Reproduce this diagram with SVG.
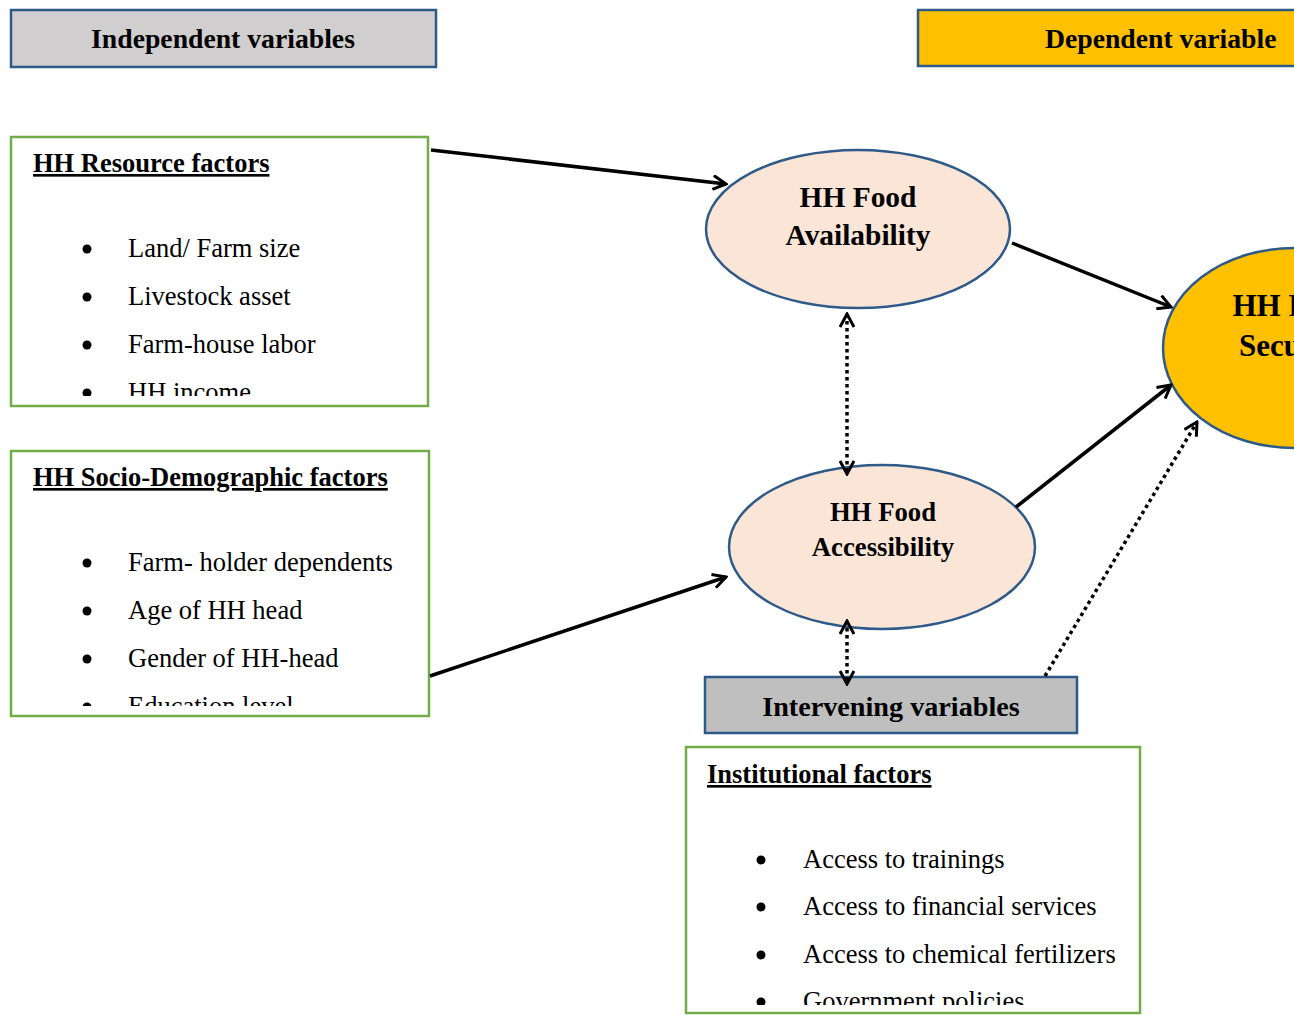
<svg xmlns="http://www.w3.org/2000/svg" width="1294" height="1015" viewBox="0 0 1294 1015">
<defs>
<style>
.hdr{font-family:"Liberation Serif","Times New Roman",serif;font-weight:bold;font-size:27.7px;fill:#000}
.ttl{font-family:"Liberation Serif","Times New Roman",serif;font-weight:bold;font-size:26.5px;fill:#000;text-decoration:underline}
.itm{font-family:"Liberation Serif","Times New Roman",serif;font-size:26.5px;fill:#000}
.ell{font-family:"Liberation Serif","Times New Roman",serif;font-weight:bold;fill:#000;text-anchor:middle}
.box{stroke:#70ad47;stroke-width:2.5;fill:#fff}
.hbox{stroke:#2e5a8a;stroke-width:2.5}
.oval{stroke:#2e5a8a;stroke-width:2.5}
.con{stroke:#000;stroke-width:3.5;fill:none}
.dot{stroke:#000;stroke-width:3.5;fill:none;stroke-dasharray:3.5 3.5}
</style>
<marker id="ah" viewBox="0 0 16 16" refX="14" refY="8" markerWidth="16" markerHeight="16" markerUnits="userSpaceOnUse" orient="auto-start-reverse">
<path d="M1,1 L14,8 L1,15" fill="none" stroke="#000" stroke-width="3"/>
</marker>
<clipPath id="c1"><rect x="11" y="137" width="417" height="259"/></clipPath>
<clipPath id="c2"><rect x="11" y="451" width="418" height="255"/></clipPath>
<clipPath id="c3"><rect x="686" y="747" width="454" height="258"/></clipPath>
</defs>
<rect width="1294" height="1015" fill="#fff"/>

<g id="independent-header">
<rect class="hbox" x="11" y="10" width="425" height="57" fill="#d0cece"/>
<text class="hdr" x="223" y="48" text-anchor="middle">Independent variables</text>
</g>

<g id="dependent-header">
<rect class="hbox" x="918" y="10" width="390" height="56" fill="#ffc000"/>
<text class="hdr" x="1045" y="48">Dependent variable</text>
</g>

<g id="resource-factors">
<rect class="box" x="11" y="137" width="417" height="269"/>
<text class="ttl" x="33" y="172">HH Resource factors</text>
<g clip-path="url(#c1)">
<circle cx="87" cy="249" r="4.5"/><text class="itm" x="128" y="257">Land/ Farm size</text>
<circle cx="87" cy="297" r="4.5"/><text class="itm" x="128" y="305">Livestock asset</text>
<circle cx="87" cy="345" r="4.5"/><text class="itm" x="128" y="353">Farm-house labor</text>
<circle cx="87" cy="393" r="4.5"/><text class="itm" x="128" y="401">HH income</text>
</g>
</g>

<g id="socio-demographic-factors">
<rect class="box" x="11" y="451" width="418" height="265"/>
<text class="ttl" x="33" y="486">HH Socio-Demographic factors</text>
<g clip-path="url(#c2)">
<circle cx="87" cy="563" r="4.5"/><text class="itm" x="128" y="571">Farm- holder dependents</text>
<circle cx="87" cy="611" r="4.5"/><text class="itm" x="128" y="619">Age of HH head</text>
<circle cx="87" cy="659" r="4.5"/><text class="itm" x="128" y="667">Gender of HH-head</text>
<circle cx="87" cy="707" r="4.5"/><text class="itm" x="128" y="715">Education level</text>
</g>
</g>

<g id="food-availability">
<ellipse class="oval" cx="858" cy="229" rx="152" ry="79" fill="#fbe5d6"/>
<text class="ell" x="858" y="207" font-size="29.4">HH Food</text>
<text class="ell" x="858" y="245" font-size="29.4">Availability</text>
</g>

<g id="food-accessibility">
<ellipse class="oval" cx="882" cy="547" rx="153" ry="82" fill="#fbe5d6"/>
<text class="ell" x="883" y="521" font-size="26.7">HH Food</text>
<text class="ell" x="883" y="556" font-size="26.7">Accessibility</text>
</g>

<g id="food-security">
<ellipse class="oval" cx="1294" cy="348" rx="131" ry="100" fill="#ffc000"/>
<text class="ell" x="1294" y="316" font-size="31">HH Food</text>
<text class="ell" x="1294" y="356" font-size="31">Security</text>
</g>

<g id="intervening-header">
<rect class="hbox" x="705" y="677" width="372" height="56" fill="#bfbfbf"/>
<text class="hdr" x="891" y="716" text-anchor="middle" style="font-size:28.2px">Intervening variables</text>
</g>

<g id="institutional-factors">
<rect class="box" x="686" y="747" width="454" height="266"/>
<text class="ttl" x="707" y="783">Institutional factors</text>
<g clip-path="url(#c3)">
<circle cx="761" cy="860" r="4.5"/><text class="itm" x="803" y="868">Access to trainings</text>
<circle cx="761" cy="907" r="4.5"/><text class="itm" x="803" y="915">Access to financial services</text>
<circle cx="761" cy="955" r="4.5"/><text class="itm" x="803" y="963">Access to chemical fertilizers</text>
<circle cx="761" cy="1002" r="4.5"/><text class="itm" x="803" y="1010">Government policies</text>
</g>
</g>

<g id="connectors">
<line class="con" x1="431" y1="150" x2="726" y2="184" marker-end="url(#ah)"/>
<line class="con" x1="430" y1="676" x2="726" y2="577" marker-end="url(#ah)"/>
<line class="con" x1="1012" y1="243" x2="1171" y2="307" marker-end="url(#ah)"/>
<line class="con" x1="1016" y1="507" x2="1171" y2="385" marker-end="url(#ah)"/>
<line class="dot" x1="847" y1="314" x2="847" y2="474" marker-start="url(#ah)" marker-end="url(#ah)"/>
<line class="dot" x1="847" y1="621" x2="847" y2="684" marker-start="url(#ah)" marker-end="url(#ah)"/>
<line class="dot" x1="1045" y1="676" x2="1197" y2="422" marker-end="url(#ah)"/>
</g>
</svg>
